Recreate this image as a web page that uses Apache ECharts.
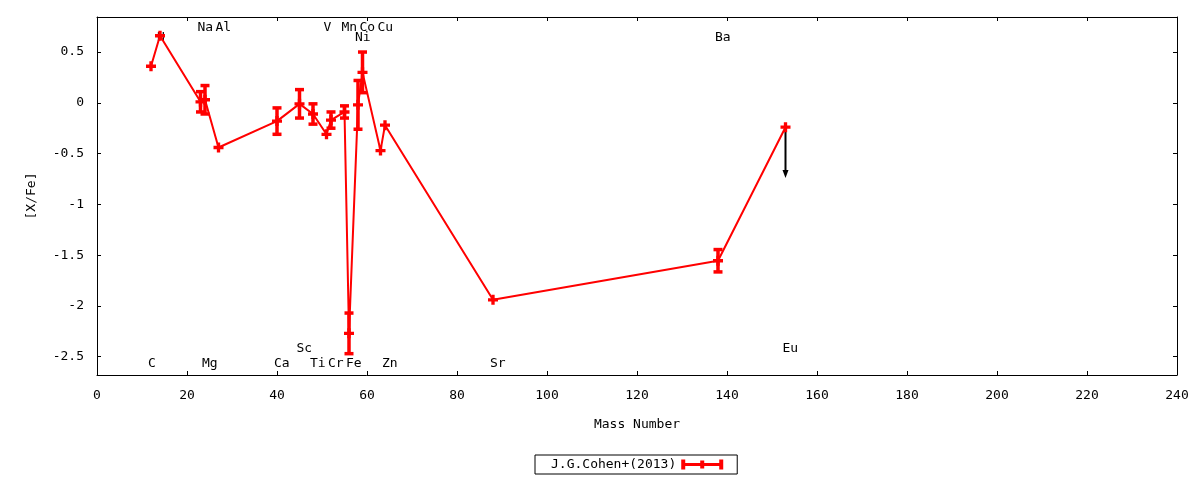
<!DOCTYPE html>
<html>
<head>
<meta charset="utf-8">
<script src="https://cdn.jsdelivr.net/npm/echarts@6/dist/echarts.min.js"></script>
<style>
  html, body { margin: 0; padding: 0; background: #fff; }
  #chart { width: 1200px; height: 480px; }
</style>
</head>
<body>
<div id="chart"></div>
<script>
'use strict';
// abundance pattern, sorted by mass number
var elements   = ['C', 'N', 'Na', 'Mg', 'Al', 'Ca', 'Sc', 'Ti', 'V', 'Cr', 'Mn', 'Fe', 'Ni', 'Co', 'Cu', 'Zn', 'Sr', 'Ba', 'Eu'];
var massNumber = [12, 14, 23, 24, 27, 40, 45, 48, 51, 52, 55, 56, 58, 59, 63, 64, 88, 138, 153];
var xFe        = [0.36, 0.66, 0.01, 0.03, -0.44, -0.18, -0.01, -0.11, -0.31, -0.17, -0.09, -2.27, -0.02, 0.30, -0.47, -0.22, -1.94, -1.555, -0.24];
var xFeErr     = [0, 0, 0.10, 0.14, 0, 0.13, 0.14, 0.10, 0, 0.08, 0.06, 0.20, 0.24, 0.20, 0, 0, 0, 0.11, 0];
// upper limits (arrow drawn downward)
var limitElements = ['Eu'];
var limitLength = 0.5;
// element name label heights in [X/Fe] units
var labelY = [-2.565, 0.645, 0.74, -2.565, 0.74, -2.565, -2.42, -2.565, 0.74, -2.565, 0.74, -2.565, 0.645, 0.74, 0.74, -2.565, -2.565, 0.645, -2.42];

var yTicks = [-2.5, -2, -1.5, -1, -0.5, 0, 0.5];
var seriesName = 'J.G.Cohen+(2013)';

var FONT = 'DejaVu Sans Mono';
var RED = '#ff0000';

var lineData = massNumber.map(function (m, i) { return [m, xFe[i]]; });
var errData = massNumber.map(function (m, i) { return [m, xFe[i], xFeErr[i]]; });
var limitData = [];
elements.forEach(function (el, i) {
  if (limitElements.indexOf(el) >= 0) limitData.push([massNumber[i], xFe[i], limitLength]);
});
var labelData = massNumber.map(function (m, i) { return [m, labelY[i], elements[i]]; });

var plusPath = 'path://M3,0h3v3h3v3h-3v3h-3v-3h-3v-3h3z';
var legendPath = 'path://M0,0H4V10H0Z M4,3.5H38V6.5H4Z M38,0H42V10H38Z M19,1H23V9H19Z';

var chart = echarts.init(document.getElementById('chart'));

var option = {
  backgroundColor: '#fff',
  animation: false,
  textStyle: { fontFamily: FONT },
  grid: { left: 97, right: 23, top: 17, bottom: 105 },
  legend: {
    data: [{ name: seriesName, icon: legendPath }],
    left: 535,
    top: 455,
    align: 'right',
    itemWidth: 42,
    itemHeight: 10,
    padding: [3, 14, 3, 16],
    borderColor: '#000',
    borderWidth: 1,
    borderRadius: 0,
    itemStyle: { color: RED },
    textStyle: { fontFamily: FONT, fontSize: 13, color: '#000' }
  },
  xAxis: [{
    type: 'value',
    min: 0, max: 240, interval: 20,
    name: 'Mass Number',
    nameLocation: 'middle',
    nameGap: 43,
    nameTextStyle: { fontFamily: FONT, fontSize: 13, color: '#000' },
    axisLine: { show: true, onZero: false, lineStyle: { color: '#000', width: 1 } },
    axisTick: { inside: true, length: 4, lineStyle: { color: '#000' } },
    axisLabel: { margin: 14, fontFamily: FONT, fontSize: 13, color: '#000' },
    splitLine: { show: false }
  }, {
    type: 'value',
    position: 'top',
    min: 0, max: 240, interval: 20,
    axisLine: { show: true, onZero: false, lineStyle: { color: '#000', width: 1 } },
    axisTick: { inside: true, length: 4, lineStyle: { color: '#000' } },
    axisLabel: { show: false },
    splitLine: { show: false }
  }],
  yAxis: [{
    type: 'value',
    min: -2.68, max: 0.845,
    name: '[X/Fe]',
    nameLocation: 'middle',
    nameGap: 59,
    nameTextStyle: { fontFamily: FONT, fontSize: 13, color: '#000' },
    axisLine: { show: true, onZero: false, lineStyle: { color: '#000', width: 1 } },
    axisTick: { inside: true, length: 4, customValues: yTicks, lineStyle: { color: '#000' } },
    axisLabel: { margin: 13, customValues: yTicks, fontFamily: FONT, fontSize: 13, color: '#000' },
    splitLine: { show: false }
  }, {
    type: 'value',
    position: 'right',
    min: -2.68, max: 0.845,
    axisLine: { show: true, onZero: false, lineStyle: { color: '#000', width: 1 } },
    axisTick: { inside: true, length: 4, customValues: yTicks, lineStyle: { color: '#000' } },
    axisLabel: { show: false },
    splitLine: { show: false }
  }],
  series: [{
    // element names
    type: 'custom',
    name: 'labels',
    z: 1,
    silent: true,
    data: labelData,
    renderItem: function (params, api) {
      var p = api.coord([api.value(0), api.value(1)]);
      return {
        type: 'text',
        x: p[0] - 3,
        y: p[1],
        style: {
          text: labelData[params.dataIndex][2],
          fill: '#000',
          font: '13px "' + FONT + '"',
          align: 'left',
          verticalAlign: 'middle'
        }
      };
    }
  }, {
    name: seriesName,
    type: 'line',
    z: 3,
    data: lineData,
    symbol: plusPath,
    symbolSize: 10,
    showAllSymbol: true,
    lineStyle: { color: RED, width: 2 },
    itemStyle: { color: RED }
  }, {
    // y error bars
    type: 'custom',
    name: 'err',
    z: 4,
    data: errData,
    renderItem: function (params, api) {
      var e = api.value(2);
      if (!e) return { type: 'group', children: [] };
      var x = api.value(0), y = api.value(1);
      var top = api.coord([x, y + e]);
      var bot = api.coord([x, y - e]);
      var hw = 4.5;
      var style = { stroke: RED, lineWidth: 3.5 };
      return {
        type: 'group',
        children: [
          { type: 'line', shape: { x1: top[0], y1: top[1], x2: bot[0], y2: bot[1] }, style: style },
          { type: 'line', shape: { x1: top[0] - hw, y1: top[1], x2: top[0] + hw, y2: top[1] }, style: style },
          { type: 'line', shape: { x1: bot[0] - hw, y1: bot[1], x2: bot[0] + hw, y2: bot[1] }, style: style }
        ]
      };
    }
  }, {
    // upper limit arrows
    type: 'custom',
    name: 'limit',
    z: 2,
    data: limitData,
    renderItem: function (params, api) {
      var x = api.value(0), y = api.value(1), len = api.value(2);
      var a = api.coord([x, y]);
      var b = api.coord([x, y - len]);
      return {
        type: 'group',
        children: [
          { type: 'line', shape: { x1: a[0], y1: a[1] + 4, x2: b[0], y2: b[1] - 6 }, style: { stroke: '#000', lineWidth: 2 } },
          { type: 'polygon', shape: { points: [[b[0] - 3, b[1] - 8], [b[0] + 3, b[1] - 8], [b[0], b[1]]] }, style: { fill: '#000' } }
        ]
      };
    }
  }]
};

chart.setOption(option);
window.addEventListener('resize', function () {
  chart && chart.resize();
});
</script>
</body>
</html>
